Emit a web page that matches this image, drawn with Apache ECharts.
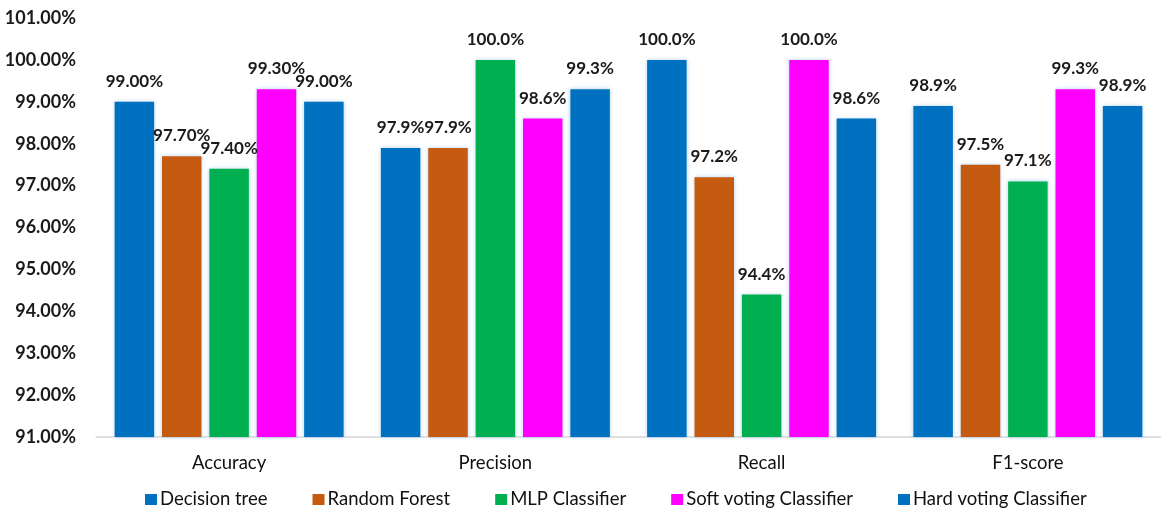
<!DOCTYPE html>
<html>
<head>
<meta charset="utf-8">
<script src="https://cdn.jsdelivr.net/npm/echarts@6/dist/echarts.min.js"></script>
<style>html,body{margin:0;padding:0;background:#fff}#c{width:1161px;height:515px}</style>
</head>
<body>
<div id="c"></div>
<script>
const categories = ['Accuracy', 'Precision', 'Recall', 'F1-score'];
const labelDecimals = [2, 1, 1, 1];
const decisionTree = [99.0, 97.9, 100.0, 98.9];
const randomForest = [97.7, 97.9, 97.2, 97.5];
const mlpClassifier = [97.4, 100.0, 94.4, 97.1];
const softVoting = [99.3, 98.6, 100.0, 99.3];
const hardVoting = [99.0, 99.3, 98.6, 98.9];
const seriesNames = ['Decision tree', 'Random Forest', 'MLP Classifier', 'Soft voting Classifier', 'Hard voting Classifier'];
const seriesData = [decisionTree, randomForest, mlpClassifier, softVoting, hardVoting];
const colors = ['#0070C0', '#C55A11', '#00B050', '#FF00FF', '#0070C0'];
const yMin = 91, yMax = 101, yStep = 1;

const font = 'Lato, "Open Sans", sans-serif';
const chart = echarts.init(document.getElementById('c'), null, {renderer: 'canvas'});
chart.setOption({
  animation: false,
  backgroundColor: '#fff',
  grid: {left: 96, right: -5, top: 18, bottom: 78, containLabel: false},
  legend: {
    bottom: 1, left: 140,
    itemWidth: 12, itemHeight: 11, itemGap: 45,
    icon: 'rect',
    textStyle: {fontFamily: font, fontSize: 18.5, color: '#111', padding: [0, 0, 0, -2]},
    data: seriesNames
  },
  xAxis: {
    type: 'category', data: categories,
    axisLine: {lineStyle: {color: '#d6d6d6', width: 1.5}},
    axisTick: {show: false},
    axisLabel: {fontFamily: font, fontSize: 18.5, color: '#111', margin: 17}
  },
  yAxis: {
    type: 'value', min: yMin, max: yMax, interval: yStep,
    axisLine: {show: false}, axisTick: {show: false},
    splitLine: {show: false},
    axisLabel: {fontFamily: font, fontSize: 18, fontWeight: 'bold', color: '#1a1a1a', margin: 20,
      formatter: v => v.toFixed(2) + '%'}
  },
  series: seriesData.map((d, i) => ({
    name: seriesNames[i], type: 'bar', data: d,
    barGap: '20%', barCategoryGap: '14%',
    itemStyle: {color: colors[i], shadowBlur: 4, shadowColor: 'rgba(120,180,230,0.6)'},
    label: {
      show: true, position: 'top', distance: 12,
      fontFamily: font, fontSize: 17, fontWeight: 'bold', color: '#1a1a1a',
      formatter: p => p.value.toFixed(labelDecimals[p.dataIndex]) + '%'
    }
  }))
});
</script>
</body>
</html>
